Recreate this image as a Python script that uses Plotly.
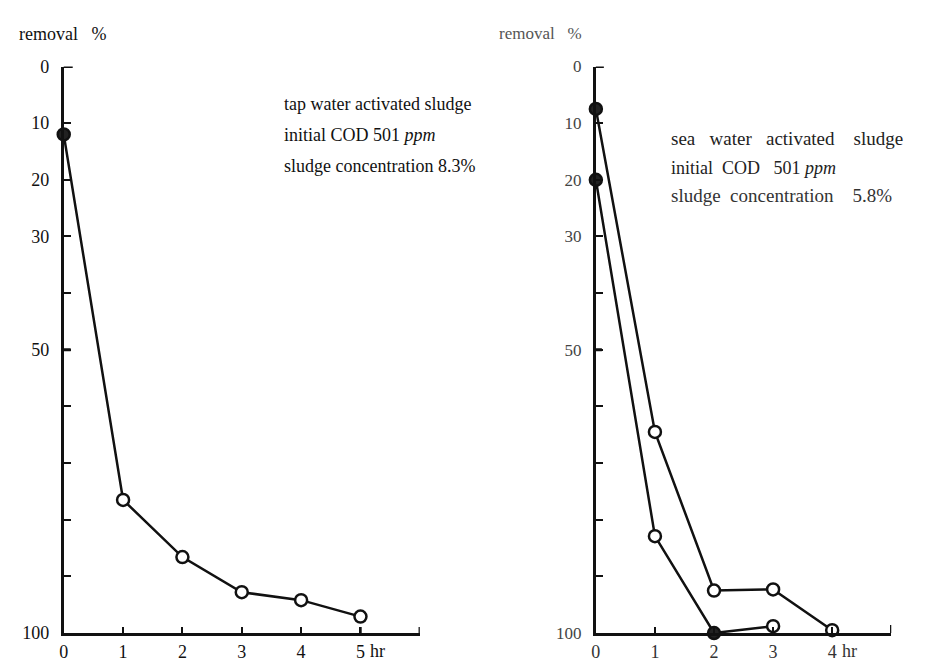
import plotly.graph_objects as go

# ---- data ----
hours_tap = [0, 1, 2, 3, 4, 5]
removal_tap = [12, 76.5, 86.6, 92.8, 94.2, 97.1]

hours_sea_a = [0, 1, 2, 3, 4]
removal_sea_a = [7.5, 64.5, 92.5, 92.3, 99.5]

hours_sea_b = [0, 1, 2, 3]
removal_sea_b = [20, 82.9, 100, 98.8]

y_tickvals = [0, 10, 20, 30, 40, 50, 60, 70, 80, 90, 100]
y_ticktext = ["0", "10", "20", "30", "", "50", "", "", "", "", "100"]
x_tickvals_left = [0, 1, 2, 3, 4, 5, 6]
x_ticktext_left = ["0", "1", "2", "3", "4", "5", ""]
x_tickvals_right = [0, 1, 2, 3, 4, 5]
x_ticktext_right = ["0", "1", "2", "3", "4", ""]

W, H = 932, 668
FONT = "Liberation Serif"

def px(x):
    return x / W

def py(y):
    return 1 - y / H

def fills(vals, dark_idx):
    return ["#222" if i in dark_idx else "white" for i in range(len(vals))]

fig = go.Figure()

fig.add_trace(go.Scatter(
    x=hours_tap, y=removal_tap, mode="lines+markers",
    line=dict(color="#111", width=2.5),
    marker=dict(symbol="circle", size=12, color=fills(removal_tap, [0]),
                line=dict(color="#111", width=2.5)),
    cliponaxis=False, xaxis="x", yaxis="y", showlegend=False))

fig.add_trace(go.Scatter(
    x=hours_sea_a, y=removal_sea_a, mode="lines+markers",
    line=dict(color="#111", width=2.5),
    marker=dict(symbol="circle", size=12, color=fills(removal_sea_a, [0]),
                line=dict(color="#111", width=2.5)),
    cliponaxis=False, xaxis="x2", yaxis="y2", showlegend=False))

fig.add_trace(go.Scatter(
    x=hours_sea_b, y=removal_sea_b, mode="lines+markers",
    line=dict(color="#111", width=2.5),
    marker=dict(symbol="circle", size=12, color=fills(removal_sea_b, [0, 2]),
                line=dict(color="#111", width=2.5)),
    cliponaxis=False, xaxis="x2", yaxis="y2", showlegend=False))

ydom = [py(634), py(50)]

common_x = dict(showline=True, linecolor="#111", linewidth=3, ticks="inside",
                ticklen=6, tickwidth=2, tickcolor="#111", showgrid=False,
                zeroline=False, tickfont=dict(family=FONT, size=18, color="#111"))
common_y = dict(showline=True, linecolor="#111", linewidth=3, ticks="inside",
                ticklen=7, tickwidth=2, tickcolor="#111", showgrid=False,
                zeroline=False, range=[100, 0], tickmode="array",
                tickvals=y_tickvals, ticktext=y_ticktext, domain=ydom,
                ticklabelstandoff=8,
                tickfont=dict(family=FONT, size=18, color="#111"))

fig.update_layout(
    width=W, height=H,
    margin=dict(l=0, r=0, t=0, b=0, pad=0),
    paper_bgcolor="white", plot_bgcolor="white",
    xaxis=dict(common_x, domain=[px(51), px(409)], range=[0, 6], anchor="y",
               tickmode="array", tickvals=x_tickvals_left, ticktext=x_ticktext_left),
    yaxis=dict(common_y, anchor="x"),
    xaxis2=dict(common_x, domain=[px(586), px(883)], range=[0, 5], anchor="y2",
                tickmode="array", tickvals=x_tickvals_right, ticktext=x_ticktext_right,
                tickfont=dict(family=FONT, size=18, color="#333")),
    yaxis2=dict(common_y, anchor="x2",
                tickfont=dict(family=FONT, size=17, color="#444")),
)

# axis end bars / cross ticks (decoration)
shapes = []
def hbar(xr, yr, yv, xv, half=7):
    shapes.append(dict(type="line", xref=xr, yref=yr, xsizemode="pixel", xanchor=xv,
                       x0=-half, x1=half, y0=yv, y1=yv,
                       line=dict(color="#111", width=3)))
def vbar(xr, yr, xv, yv, half=6):
    shapes.append(dict(type="line", xref=xr, yref=yr, ysizemode="pixel", yanchor=yv,
                       y0=-half, y1=half, x0=xv, x1=xv,
                       line=dict(color="#111", width=2.5)))
hbar("x", "y", 0, 0, 9)
hbar("x", "y", 50, 0, 7)
hbar("x2", "y2", 0, 0, 8)
hbar("x2", "y2", 50, 0, 6)
vbar("x", "y", 6, 100, 6)
vbar("x", "y", 5, 100, 6)
vbar("x2", "y2", 5, 100, 8)
fig.update_layout(shapes=shapes)

ann = []
def text(x, y, s, size=17, color="#111", xanchor="left"):
    ann.append(dict(x=px(x), y=py(y), xref="paper", yref="paper", text=s,
                    showarrow=False, xanchor=xanchor, yanchor="middle",
                    font=dict(family=FONT, size=size, color=color)))

text(4, 16, "removal&nbsp;&nbsp;&nbsp;%", size=18)
text(487, 16, "removal&nbsp;&nbsp;&nbsp;%", size=17, color="#555")

text(270, 89, "tap water activated sludge", size=18)
text(270, 121, "initial COD 501 <i>ppm</i>", size=18)
text(270, 153, "sludge concentration 8.3%", size=18)

text(660, 124, "sea&nbsp;&nbsp;&nbsp;water&nbsp;&nbsp;&nbsp;activated&nbsp;&nbsp;&nbsp;&nbsp;sludge", size=19, color="#222")
text(660, 155, "initial&nbsp;&nbsp;COD&nbsp;&nbsp;&nbsp;501 <i>ppm</i>", size=18, color="#222")
text(660, 183, "sludge&nbsp;&nbsp;concentration&nbsp;&nbsp;&nbsp;&nbsp;5.8%", size=19, color="#333")

# "hr" unit labels next to last labelled tick
ann.append(dict(x=5, y=100, xref="x", yref="y", text="hr", showarrow=False,
                xanchor="left", yanchor="top", xshift=8, yshift=-6,
                font=dict(family=FONT, size=18, color="#111")))
ann.append(dict(x=4, y=100, xref="x2", yref="y2", text="hr", showarrow=False,
                xanchor="left", yanchor="top", xshift=8, yshift=-6,
                font=dict(family=FONT, size=18, color="#333")))

fig.update_layout(annotations=ann)

fig.write_html("out.html")
